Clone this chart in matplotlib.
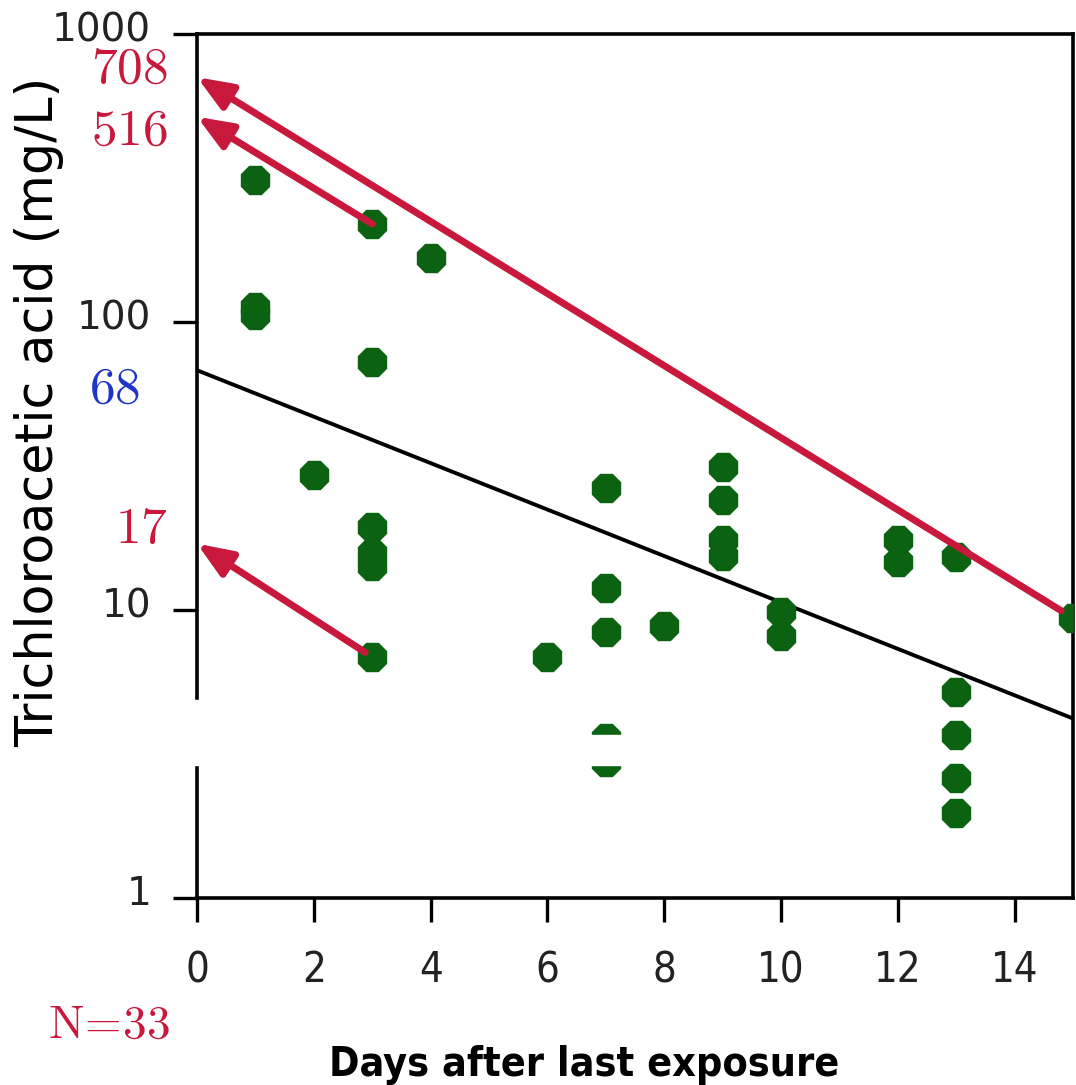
import numpy as np
import matplotlib
matplotlib.use('Agg')
import matplotlib.pyplot as plt
from matplotlib.patches import Rectangle
from matplotlib.transforms import ScaledTranslation

# urinary TCA after the last exposure
days = [1, 1, 1, 2, 3, 3, 3, 3, 3, 3, 4, 6, 7, 7, 7, 7, 7, 7,
        8, 9, 9, 9, 9, 10, 10, 12, 12, 13, 13, 13, 13, 13, 15]
tca = [311, 113, 106, 29.4, 219, 72.6, 19.4, 15.8, 14.2, 6.87, 167, 6.87,
       26.5, 11.9, 8.39, 3.59, 3.26, 2.97,
       8.8, 31.4, 24.1, 17.5, 15.4, 9.85, 8.12, 17.5, 14.7,
       15.3, 5.19, 3.68, 2.61, 1.97, 9.38]

# log-linear fit: value at day 0 and at day 15
fit_days = [0, 15]
fit_vals = [68, 4.2]

# back-extrapolation arrows: (start day, start value, value at day 0)
arrow_from_day = [15, 3, 3]
arrow_from_val = [9.38, 219, 6.87]
arrow_to_val = [708, 516, 17]
arrow_labels = ['708', '516', '17']

xticks = [0, 2, 4, 6, 8, 10, 12, 14]
yticks = [1, 10, 100, 1000]

RED = '#c8193c'
BLUE = '#1f35c8'
GREEN = '#0b6311'

W, H = 1076, 1085
fig = plt.figure(figsize=(W / 100, H / 100), dpi=100)
ax = fig.add_axes([197 / W, 1 - 898 / H, 876 / W, 864 / H])

ax.set_yscale('log')
ax.set_xlim(0, 15)
ax.set_ylim(1, 1000)

for sp in ax.spines.values():
    sp.set_linewidth(2.6)

ax.plot(days, tca, linestyle='none', marker='8', ms=22, color=GREEN,
        mec=GREEN, zorder=3)
ax.plot(fit_days, fit_vals, color='black', lw=2.8, zorder=2)

for d0, v0, v1 in zip(arrow_from_day, arrow_from_val, arrow_to_val):
    shrink = 10 if d0 == 15 else (6 if v0 < 10 else 0)
    ax.annotate('', xy=(0, v1), xytext=(d0, v0),
                arrowprops=dict(arrowstyle='-|>,head_length=0.5,head_width=0.2',
                                color=RED, lw=5, mutation_scale=42,
                                shrinkA=shrink, shrinkB=0),
                zorder=4, annotation_clip=False)

# labels for the extrapolated values
label_dy = [8, -14, 15]
for lab, v, dy in zip(arrow_labels, arrow_to_val, label_dy):
    ax.annotate('$%s$' % lab, xy=(0, v), xytext=(-29, dy), textcoords='offset pixels',
                ha='right', va='center', color=RED, fontsize=37,
                math_fontfamily='cm', annotation_clip=False)
ax.annotate('$%d$' % fit_vals[0], xy=(0, fit_vals[0]), xytext=(-57, -18),
            textcoords='offset pixels', ha='right', va='center',
            color=BLUE, fontsize=37, math_fontfamily='cm', annotation_clip=False)

ax.set_xticks(xticks)
ax.set_xticklabels([str(t) for t in xticks], fontstretch='condensed')
ax.set_yticks(yticks)
ax.set_yticklabels([str(t) for t in yticks], fontstretch='normal')
ax.minorticks_off()
ax.tick_params(axis='y', direction='out', length=17, width=2.4, pad=16,
               labelsize=28, labelcolor='#222222')
ax.tick_params(axis='x', direction='out', length=17, width=2.4, pad=20,
               labelsize=30, labelcolor='#222222')
# y tick labels sit a little above their ticks
lift = ScaledTranslation(0, 8 / 100, fig.dpi_scale_trans)
for lbl in ax.get_yticklabels():
    lbl.set_transform(lbl.get_transform() + lift)

ax.set_ylabel('Trichloroacetic acid (mg/L)', fontsize=36.5)
ax.yaxis.set_label_coords(-0.152, 0.5625)
ax.set_xlabel('Days after last exposure', fontsize=29.5, fontweight='bold',
              fontstretch='condensed')
ax.xaxis.set_label_coords(0.442, -0.17)

fig.text(109 / W, 1 - 1025 / H, r'$\mathrm{N}\!=\!33$', color=RED, fontsize=34,
         ha='center', va='center', math_fontfamily='cm')

# white gaps over the spine and the lower day-7 points
fig.patches.append(Rectangle((188 / W, 1 - 765 / H), 18 / W, 65 / H,
                             transform=fig.transFigure, color='white', zorder=10))
fig.patches.append(Rectangle((583 / W, 1 - 765 / H), 40 / W, 30 / H,
                             transform=fig.transFigure, color='white', zorder=10))

fig.savefig('out.png', dpi=100)
